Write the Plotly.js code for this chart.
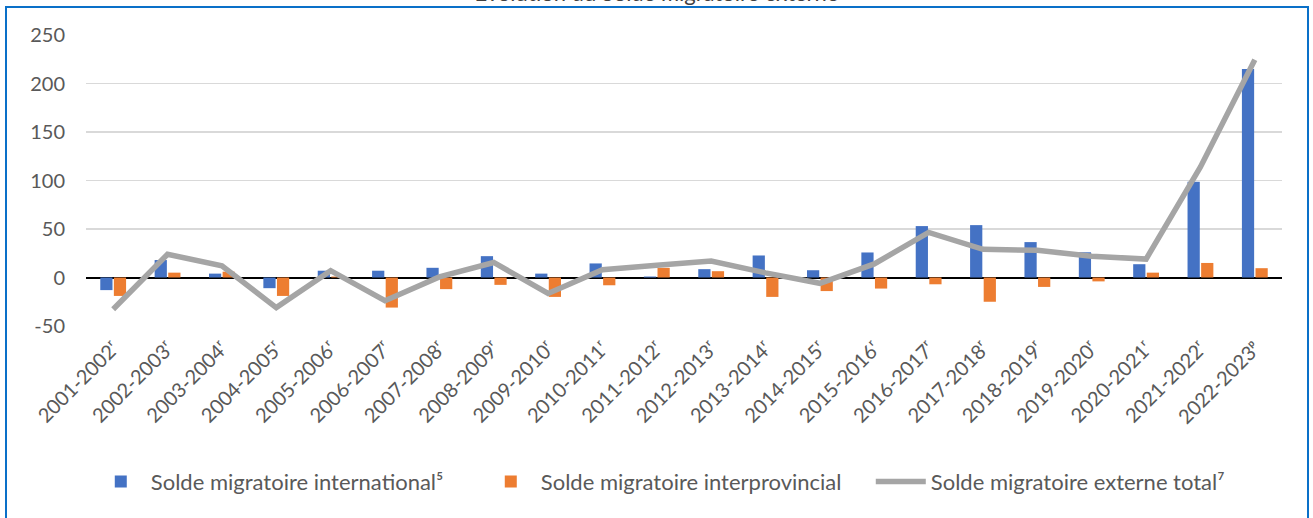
<!DOCTYPE html>
<html>
<head>
<meta charset="utf-8">
<script src="https://cdn.plot.ly/plotly-3.0.1.min.js"></script>
<style>
  html, body { margin: 0; padding: 0; background: #fff; }
  #wrap { position: relative; width: 1313px; height: 518px; overflow: hidden; }
  #chart { width: 1313px; height: 518px; }
  #frame { position: absolute; left: 5px; top: 6px; width: 1300px; height: 600px;
           border: 2px solid #0A70C8; pointer-events: none; box-sizing: content-box; }
</style>
</head>
<body>
<div id="wrap">
  <div id="chart"></div>
  <div id="frame"></div>
</div>
<script>
const categories = ["2001-2002ʳ","2002-2003ʳ","2003-2004ʳ","2004-2005ʳ","2005-2006ʳ","2006-2007ʳ",
  "2007-2008ʳ","2008-2009ʳ","2009-2010ʳ","2010-2011ʳ","2011-2012ʳ","2012-2013ʳ","2013-2014ʳ",
  "2014-2015ʳ","2015-2016ʳ","2016-2017ʳ","2017-2018ʳ","2018-2019ʳ","2019-2020ʳ","2020-2021ʳ",
  "2021-2022ʳ","2022-2023ᵖ"];
const international = [-13, 18, 4, -11, 7, 7, 10, 22, 4, 14.5, 1, 8.6, 22.7, 7.5, 25.8, 53, 54, 36.5, 26, 13.7, 98.8, 215];
const interprovincial = [-19, 5, 6, -19, 1, -31, -12, -7.6, -20, -8, 10, 6.5, -20, -14, -11.4, -7, -25, -9.7, -4, 5, 15, 9.6];
const externeTotal = [-32.7, 24, 12, -31, 7, -24, 0.6, 15.5, -16.5, 8, 12.6, 17, 4.8, -6, 14, 46.5, 29, 28, 22, 19, 114, 224.5];
const yTickVals = [-50, 0, 50, 100, 150, 200, 250];
const yTickText = ["-50", "0", "50", "100", "150", "200", "250"];
const seriesNames = ["Solde migratoire international⁵", "Solde migratoire interprovincial", "Solde migratoire externe total⁷"];
const titleText = "Évolution du Solde migratoire externe";

const traces = [
  { type: "bar", name: seriesNames[0], x: categories, y: international,
    marker: { color: "#4472C4" } },
  { type: "bar", name: seriesNames[1], x: categories, y: interprovincial,
    marker: { color: "#ED7D31" } },
  { type: "scatter", mode: "lines", name: seriesNames[2], x: categories, y: externeTotal,
    line: { color: "#A5A5A5", width: 5.5 } }
];

const layout = {
  width: 1313, height: 518,
  margin: { l: 86, r: 31, t: 35, b: 192 },
  paper_bgcolor: "#fff", plot_bgcolor: "#fff",
  font: { family: "Lato, 'Open Sans', sans-serif", color: "#595959", size: 19 },
  title: { text: titleText, x: 0.5, xref: "container", y: 0.9985, yref: "container", yanchor: "bottom",
           font: { size: 22, color: "#404040", family: "Lato, 'Open Sans', sans-serif" } },
  barmode: "group", bargap: 0.5, bargroupgap: 0.1,
  showlegend: true,
  legend: { orientation: "h", x: 0.004, xanchor: "left", y: -0.535, yanchor: "middle",
            font: { size: 22, color: "#595959" }, itemwidth: 50, traceorder: "normal",
            entrywidth: 325, entrywidthmode: "pixels",
            bgcolor: "rgba(0,0,0,0)" },
  xaxis: { type: "category", tickangle: -45, showgrid: false, showline: false, ticks: "",
           ticklabelstandoff: 6,
           tickfont: { size: 20, color: "#595959" }, automargin: false, fixedrange: true },
  yaxis: { range: [-50, 250], tickvals: yTickVals, ticktext: yTickText, showgrid: true,
           gridcolor: "#D9D9D9", gridwidth: 1.5, zeroline: true, zerolinecolor: "#000000",
           zerolinewidth: 2, showline: false, ticks: "", ticklabelstandoff: 20,
           tickfont: { size: 20, color: "#595959" }, automargin: false, fixedrange: true }
};

Plotly.newPlot("chart", traces, layout, { displayModeBar: false, staticPlot: true });
</script>
</body>
</html>
